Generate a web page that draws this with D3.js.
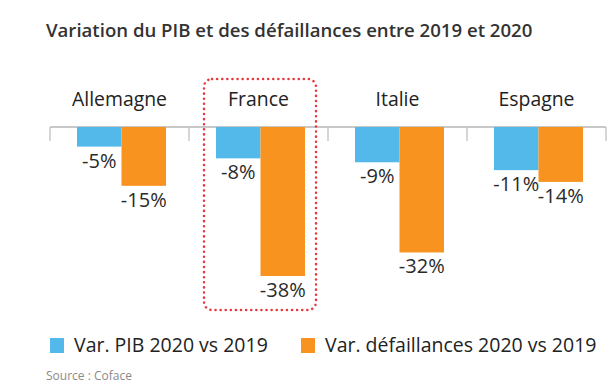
<!DOCTYPE html>
<html>
<head>
<meta charset="utf-8">
<script src="https://cdn.jsdelivr.net/npm/d3@7"></script>
<style>
  body { margin: 0; background: #fff; }
  text { font-family: "Open Sans", sans-serif; }
</style>
</head>
<body>
<svg id="chart" width="616" height="389"></svg>
<script>
// the data
var countries = ['Allemagne', 'France', 'Italie', 'Espagne'];
var series = ['Var. PIB 2020 vs 2019', 'Var. défaillances 2020 vs 2019'];
var pib = [-5, -8, -9, -11];
var defaillances = [-15, -38, -32, -14];
var colors = ['#52b9ea', '#f7931e'];

var rows = countries.map((c, i) => ({ name: c, values: [pib[i], defaillances[i]] }));

var svg = d3.select('#chart');

// title
svg.append('text')
    .attr('x', 46).attr('y', 37)
    .attr('font-size', 18.6).attr('font-weight', 600).attr('fill', '#333')
    .text('Variation du PIB et des défaillances entre 2019 et 2020');

// scales
var x0 = d3.scaleBand().domain(countries).range([50, 606]);
var x1 = d3.scaleBand().domain([0, 1]).range([27, 116]);
var y = d3.scaleLinear().domain([-38, 0]).range([276, 127]);

// axis with category labels on top
var axis = svg.append('g').attr('transform', 'translate(0,' + y(0) + ')');
axis.append('line')
    .attr('x1', 50).attr('x2', 606)
    .attr('stroke', '#c8c8c8').attr('stroke-width', 2);
var edges = countries.map(c => x0(c)).concat([x0.range()[1]]);
axis.selectAll('line.tick')
    .data(edges).enter().append('line').attr('class', 'tick')
    .attr('x1', d => d).attr('x2', d => d)
    .attr('y1', 0).attr('y2', 14)
    .attr('stroke', '#c8c8c8').attr('stroke-width', 1.5);

svg.selectAll('text.cat')
    .data(countries).enter().append('text').attr('class', 'cat')
    .attr('x', d => x0(d) + x0.bandwidth() / 2)
    .attr('y', 106)
    .attr('text-anchor', 'middle')
    .attr('font-size', 19.4).attr('fill', '#222')
    .text(d => d);

// bars
var groups = svg.selectAll('g.grp')
    .data(rows).enter().append('g').attr('class', 'grp')
    .attr('transform', d => 'translate(' + x0(d.name) + ',0)');

groups.selectAll('rect')
    .data(d => d.values).enter().append('rect')
    .attr('x', (d, i) => x1(i))
    .attr('width', x1.bandwidth())
    .attr('y', y(0))
    .attr('height', d => y(d) - y(0))
    .attr('fill', (d, i) => colors[i]);

groups.selectAll('text')
    .data(d => d.values).enter().append('text')
    .attr('x', (d, i) => x1(i) + x1.bandwidth() / 2)
    .attr('y', d => y(d) + 21)
    .attr('text-anchor', 'middle')
    .attr('font-size', 20).attr('fill', '#2a2a2a')
    .text(d => d + '%');

// highlight box round France
var fx = x0('France');
svg.append('rect')
    .attr('x', fx + 15).attr('y', 79)
    .attr('width', 112).attr('height', 231)
    .attr('rx', 8)
    .attr('fill', 'none').attr('stroke', '#e8383d')
    .attr('stroke-width', 2.5).attr('stroke-linecap', 'round')
    .attr('stroke-dasharray', '0.1 5');

// legend
var legendX = [50, 301];
var leg = svg.selectAll('g.leg')
    .data(series).enter().append('g').attr('class', 'leg')
    .attr('transform', (d, i) => 'translate(' + legendX[i] + ',338)');
leg.append('rect')
    .attr('width', 14).attr('height', 15)
    .attr('fill', (d, i) => colors[i]);
leg.append('text')
    .attr('x', 24).attr('y', 14)
    .attr('font-size', 19.5).attr('fill', '#222')
    .text(d => d);

// source
svg.append('text')
    .attr('x', 46).attr('y', 380)
    .attr('font-size', 12).attr('fill', '#8a8a8a')
    .text('Source : Coface');
</script>
</body>
</html>
